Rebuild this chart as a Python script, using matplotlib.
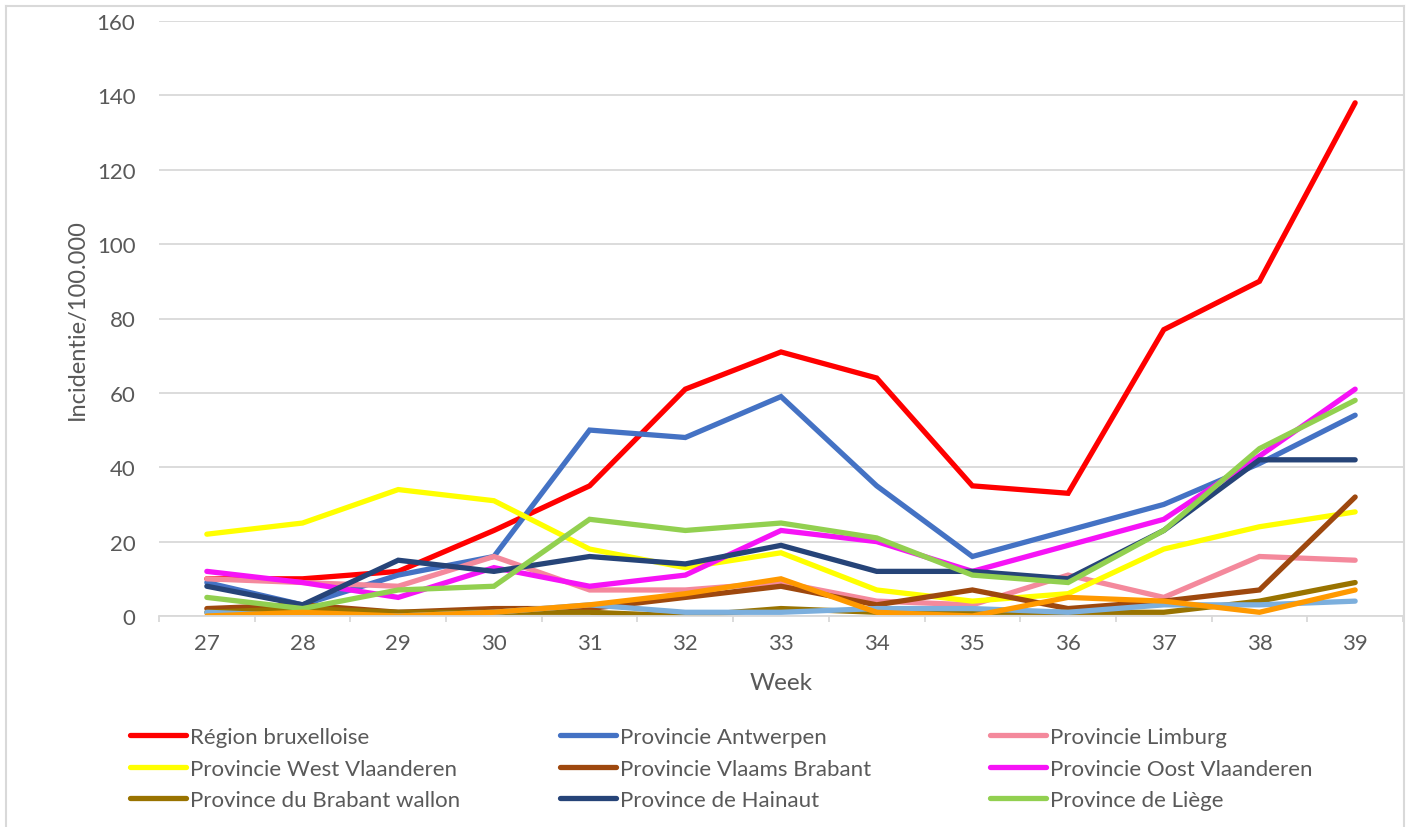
import matplotlib.pyplot as plt
from matplotlib.lines import Line2D
from matplotlib.ticker import MultipleLocator

plt.rcParams['font.family'] = ['Lato', 'DejaVu Sans']

weeks = [27, 28, 29, 30, 31, 32, 33, 34, 35, 36, 37, 38, 39]

names = ["Région bruxelloise", "Provincie Antwerpen", "Provincie Limburg",
         "Provincie West Vlaanderen", "Provincie Vlaams Brabant", "Provincie Oost Vlaanderen",
         "Province du Brabant wallon", "Province de Hainaut", "Province de Liège",
         "Province de Luxembourg", "Province de Namur"]

bruxelles      = [10, 10, 12, 23, 35, 61, 71, 64, 35, 33, 77, 90, 138]
antwerpen      = [9, 3, 11, 16, 50, 48, 59, 35, 16, 23, 30, 41, 54]
limburg        = [10, 9, 8, 16, 7, 7, 9, 4, 3, 11, 5, 16, 15]
west_vl        = [22, 25, 34, 31, 18, 13, 17, 7, 4, 6, 18, 24, 28]
vlaams_brabant = [2, 3, 1, 2, 2, 5, 8, 3, 7, 2, 4, 7, 32]
oost_vl        = [12, 9, 5, 13, 8, 11, 23, 20, 12, 19, 26, 43, 61]
brabant_wallon = [1, 2, 1, 1, 1, 0, 2, 1, 1, 1, 1, 4, 9]
hainaut        = [8, 3, 15, 12, 16, 14, 19, 12, 12, 10, 23, 42, 42]
liege          = [5, 2, 7, 8, 26, 23, 25, 21, 11, 9, 23, 45, 58]
luxembourg     = [1, 0, 0, 1, 3, 1, 1, 2, 2, 1, 3, 3, 4]
namur          = [0, 1, 0, 1, 3, 6, 10, 1, 0, 5, 4, 1, 7]

series = [bruxelles, antwerpen, limburg, west_vl, vlaams_brabant, oost_vl,
          brabant_wallon, hainaut, liege, luxembourg, namur]
colors = ["#FF0000", "#4472C4", "#F4899C", "#FFFF00", "#9E480E", "#F613F6",
          "#997300", "#264478", "#92D050", "#7CAFDD", "#FF9900"]

txt = "#595959"
grid = "#D9D9D9"

fig = plt.figure(figsize=(14.1, 8.28), dpi=100)
ax = fig.add_axes([159/1410, 1-617/828, (1403-159)/1410, (617-22)/828])

lines = []
for vals, col, name in zip(series, colors, names):
    ln, = ax.plot(weeks, vals, color=col, lw=3.8, solid_capstyle='round',
                  solid_joinstyle='miter', label=name)
    lines.append(ln)

ax.set_xlim(26.5, 39.5)
ax.set_ylim(0, 160)
ax.yaxis.set_major_locator(MultipleLocator(20))
ax.xaxis.set_major_locator(MultipleLocator(1))
ax.xaxis.set_minor_locator(MultipleLocator(1, offset=0.5))
ax.grid(axis='y', color=grid, lw=1.3)
ax.set_axisbelow(True)
for s in ['top', 'right', 'left']:
    ax.spines[s].set_visible(False)
ax.spines['bottom'].set_color(grid)
ax.spines['bottom'].set_linewidth(1.3)
ax.tick_params(axis='y', length=0, pad=17, labelsize=16, labelcolor=txt)
ax.tick_params(axis='x', which='major', length=0, pad=12, labelsize=16, labelcolor=txt)
ax.tick_params(axis='x', which='minor', length=4, width=1.3, color=grid)

ax.set_xlabel("Week", fontsize=17.5, color=txt, labelpad=14)
ax.set_ylabel("Incidentie/100.000", fontsize=17, color=txt)
ax.yaxis.set_label_coords((88-159)/1244, 0.5)

# legend: three columns, the last two series fall outside the visible frame
for c in range(3):
    idx = [c, c+3, c+6]
    fig.legend([lines[i] for i in idx], [names[i] for i in idx],
               loc='upper left', bbox_to_anchor=((130 + 430*c)/1410, 1-728/828),
               frameon=False, fontsize=16, labelcolor=txt, handlelength=2.5,
               handletextpad=0.2, labelspacing=0.52, borderpad=0, borderaxespad=0)

# chart-area frame
for xs, ys in [([6, 6], [7, 828]), ([6, 1404], [7, 7]), ([1404, 1404], [7, 828])]:
    fig.add_artist(Line2D([x/1410 for x in xs], [1-y/828 for y in ys],
                          color=grid, lw=1.5, transform=fig.transFigure))

fig.savefig("out.png", dpi=100)
